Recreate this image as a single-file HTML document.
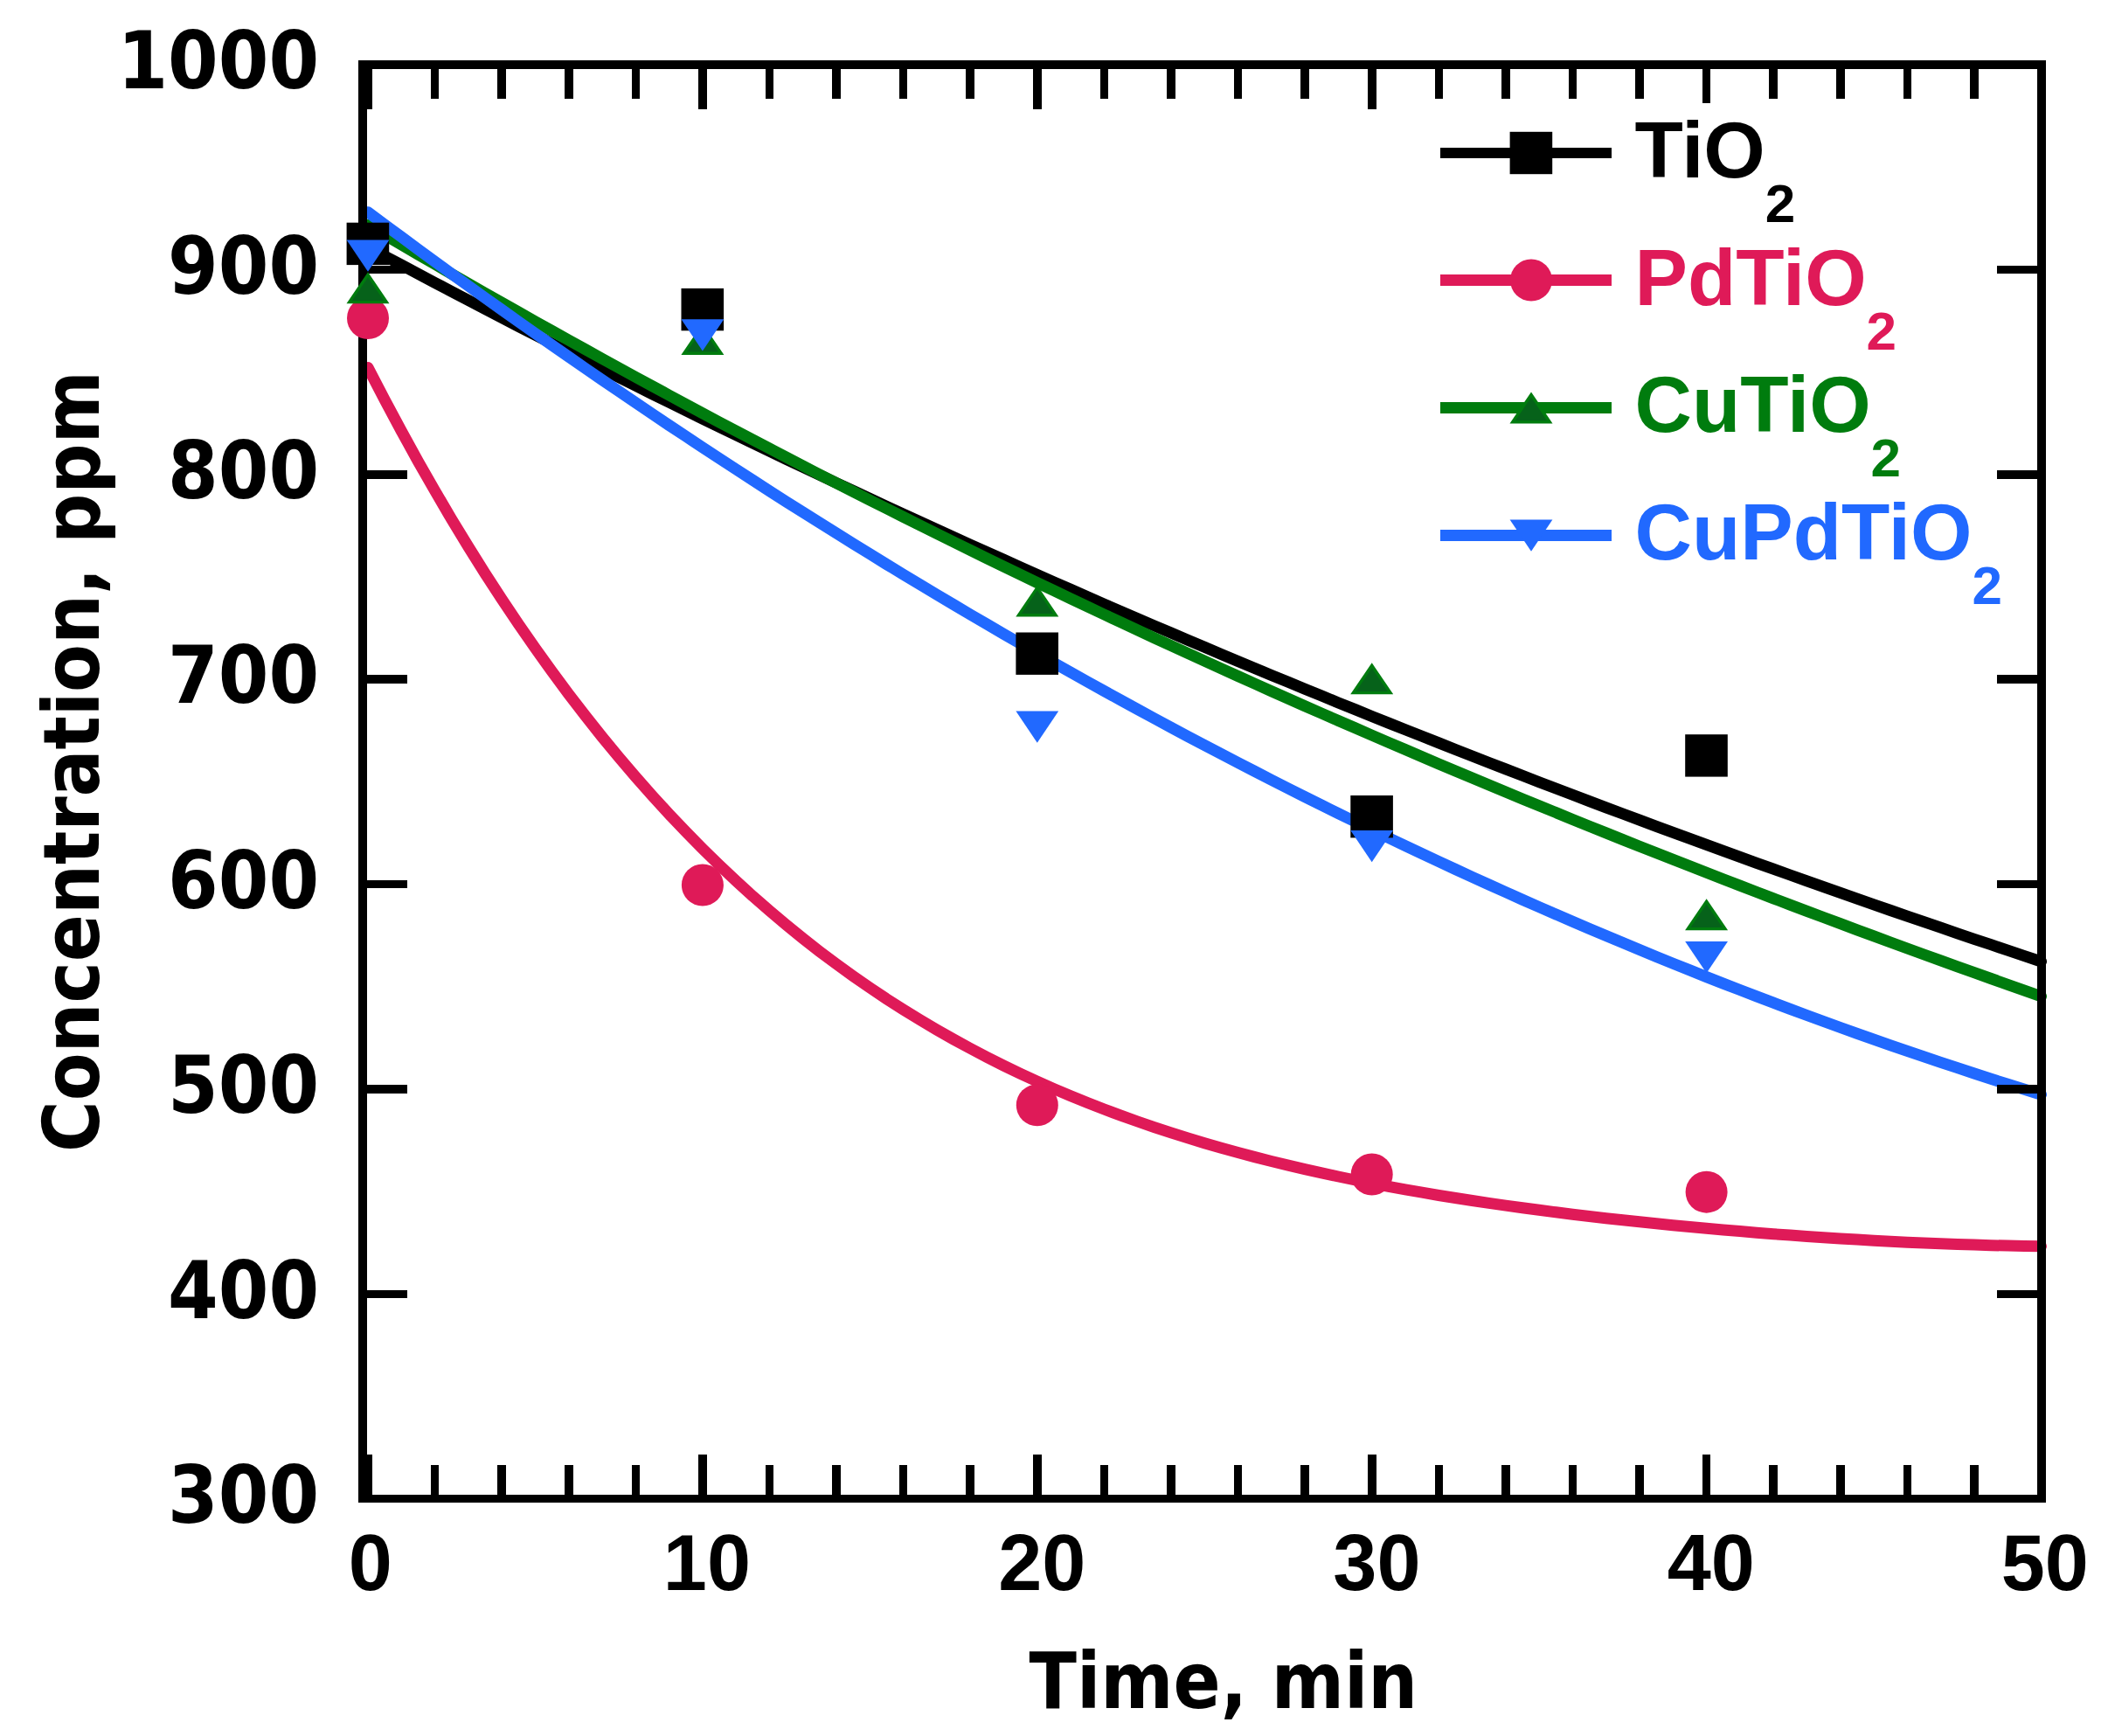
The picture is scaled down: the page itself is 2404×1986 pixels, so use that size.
<!DOCTYPE html>
<html lang="en"><head><meta charset="utf-8"><title>Concentration vs Time</title>
<style>html,body{margin:0;padding:0;background:#fff}body{width:2404px;height:1986px;overflow:hidden}svg{display:block}</style>
</head><body>
<svg width="2404" height="1986" viewBox="0 0 2404 1986">
<rect width="2404" height="1986" fill="#fff"/>
<g fill="none" stroke-linecap="round" stroke-linejoin="round" stroke-width="13">
<polyline stroke="#000000" points="421.0,282.6 440.1,292.9 459.3,303.1 478.4,313.3 497.6,323.4 516.7,333.5 535.9,343.5 555.0,353.5 574.2,363.5 593.3,373.4 612.5,383.2 631.6,393.0 650.7,402.7 669.9,412.4 689.0,422.1 708.2,431.7 727.3,441.3 746.5,450.8 765.6,460.2 784.8,469.7 803.9,479.1 823.0,488.4 842.2,497.7 861.3,506.9 880.5,516.1 899.6,525.3 918.8,534.4 937.9,543.4 957.1,552.5 976.2,561.4 995.4,570.4 1014.5,579.3 1033.6,588.1 1052.8,596.9 1071.9,605.7 1091.1,614.4 1110.2,623.1 1129.4,631.7 1148.5,640.3 1167.7,648.9 1186.8,657.4 1205.9,665.9 1225.1,674.3 1244.2,682.7 1263.4,691.1 1282.5,699.4 1301.7,707.7 1320.8,715.9 1340.0,724.1 1359.1,732.2 1378.2,740.3 1397.4,748.4 1416.5,756.5 1435.7,764.5 1454.8,772.4 1474.0,780.3 1493.1,788.2 1512.3,796.1 1531.4,803.9 1550.6,811.6 1569.7,819.4 1588.8,827.1 1608.0,834.7 1627.1,842.3 1646.3,849.9 1665.4,857.5 1684.6,865.0 1703.7,872.5 1722.9,879.9 1742.0,887.3 1761.1,894.7 1780.3,902.0 1799.4,909.3 1818.6,916.6 1837.7,923.8 1856.9,931.0 1876.0,938.1 1895.2,945.3 1914.3,952.4 1933.5,959.4 1952.6,966.4 1971.7,973.4 1990.9,980.4 2010.0,987.3 2029.2,994.2 2048.3,1001.0 2067.5,1007.8 2086.6,1014.6 2105.8,1021.4 2124.9,1028.1 2144.1,1034.8 2163.2,1041.5 2182.3,1048.1 2201.5,1054.7 2220.6,1061.2 2239.8,1067.8 2258.9,1074.3 2278.1,1080.7 2297.2,1087.2 2316.4,1093.6 2335.5,1100.0"/>
<polyline stroke="#DF1A58" points="421.0,420.4 440.1,457.3 459.3,493.1 478.4,527.8 497.6,561.4 516.7,594.0 535.9,625.5 555.0,656.0 574.2,685.5 593.3,714.0 612.5,741.6 631.6,768.3 650.7,794.1 669.9,819.0 689.0,843.1 708.2,866.4 727.3,888.8 746.5,910.5 765.6,931.4 784.8,951.5 803.9,971.0 823.0,989.7 842.2,1007.8 861.3,1025.2 880.5,1041.9 899.6,1058.0 918.8,1073.6 937.9,1088.5 957.1,1102.9 976.2,1116.7 995.4,1130.0 1014.5,1142.8 1033.6,1155.0 1052.8,1166.8 1071.9,1178.1 1091.1,1189.0 1110.2,1199.4 1129.4,1209.5 1148.5,1219.1 1167.7,1228.3 1186.8,1237.1 1205.9,1245.6 1225.1,1253.7 1244.2,1261.5 1263.4,1269.0 1282.5,1276.1 1301.7,1283.0 1320.8,1289.6 1340.0,1295.9 1359.1,1301.9 1378.2,1307.7 1397.4,1313.2 1416.5,1318.5 1435.7,1323.6 1454.8,1328.5 1474.0,1333.1 1493.1,1337.6 1512.3,1341.9 1531.4,1346.0 1550.6,1350.0 1569.7,1353.7 1588.8,1357.4 1608.0,1360.9 1627.1,1364.2 1646.3,1367.5 1665.4,1370.5 1684.6,1373.5 1703.7,1376.4 1722.9,1379.1 1742.0,1381.8 1761.1,1384.3 1780.3,1386.8 1799.4,1389.2 1818.6,1391.5 1837.7,1393.7 1856.9,1395.8 1876.0,1397.8 1895.2,1399.8 1914.3,1401.7 1933.5,1403.5 1952.6,1405.3 1971.7,1407.0 1990.9,1408.6 2010.0,1410.2 2029.2,1411.7 2048.3,1413.1 2067.5,1414.4 2086.6,1415.7 2105.8,1417.0 2124.9,1418.1 2144.1,1419.2 2163.2,1420.2 2182.3,1421.2 2201.5,1422.0 2220.6,1422.8 2239.8,1423.5 2258.9,1424.1 2278.1,1424.7 2297.2,1425.1 2316.4,1425.4 2335.5,1425.7"/>
<polyline stroke="#007C0E" points="421.0,257.3 440.1,268.6 459.3,279.9 478.4,291.1 497.6,302.2 516.7,313.3 535.9,324.3 555.0,335.3 574.2,346.2 593.3,357.0 612.5,367.8 631.6,378.5 650.7,389.2 669.9,399.8 689.0,410.4 708.2,420.9 727.3,431.4 746.5,441.8 765.6,452.1 784.8,462.4 803.9,472.7 823.0,482.9 842.2,493.0 861.3,503.1 880.5,513.1 899.6,523.1 918.8,533.0 937.9,542.9 957.1,552.7 976.2,562.4 995.4,572.2 1014.5,581.8 1033.6,591.4 1052.8,601.0 1071.9,610.5 1091.1,620.0 1110.2,629.4 1129.4,638.8 1148.5,648.1 1167.7,657.4 1186.8,666.6 1205.9,675.7 1225.1,684.9 1244.2,693.9 1263.4,703.0 1282.5,711.9 1301.7,720.9 1320.8,729.8 1340.0,738.6 1359.1,747.4 1378.2,756.1 1397.4,764.9 1416.5,773.5 1435.7,782.1 1454.8,790.7 1474.0,799.2 1493.1,807.7 1512.3,816.1 1531.4,824.5 1550.6,832.8 1569.7,841.1 1588.8,849.4 1608.0,857.6 1627.1,865.8 1646.3,873.9 1665.4,882.0 1684.6,890.0 1703.7,898.0 1722.9,906.0 1742.0,913.9 1761.1,921.8 1780.3,929.6 1799.4,937.4 1818.6,945.2 1837.7,952.9 1856.9,960.6 1876.0,968.2 1895.2,975.8 1914.3,983.3 1933.5,990.8 1952.6,998.3 1971.7,1005.8 1990.9,1013.1 2010.0,1020.5 2029.2,1027.8 2048.3,1035.1 2067.5,1042.3 2086.6,1049.5 2105.8,1056.7 2124.9,1063.8 2144.1,1070.9 2163.2,1078.0 2182.3,1085.0 2201.5,1092.0 2220.6,1098.9 2239.8,1105.8 2258.9,1112.7 2278.1,1119.5 2297.2,1126.3 2316.4,1133.1 2335.5,1139.8"/>
<polyline stroke="#2169FF" points="421.0,242.7 440.1,257.0 459.3,271.1 478.4,285.2 497.6,299.2 516.7,313.2 535.9,327.0 555.0,340.7 574.2,354.4 593.3,368.0 612.5,381.5 631.6,394.9 650.7,408.2 669.9,421.5 689.0,434.7 708.2,447.7 727.3,460.7 746.5,473.6 765.6,486.5 784.8,499.2 803.9,511.9 823.0,524.4 842.2,536.9 861.3,549.3 880.5,561.7 899.6,573.9 918.8,586.1 937.9,598.1 957.1,610.1 976.2,622.0 995.4,633.8 1014.5,645.6 1033.6,657.2 1052.8,668.8 1071.9,680.3 1091.1,691.7 1110.2,703.0 1129.4,714.2 1148.5,725.3 1167.7,736.4 1186.8,747.4 1205.9,758.3 1225.1,769.1 1244.2,779.8 1263.4,790.5 1282.5,801.0 1301.7,811.5 1320.8,821.9 1340.0,832.2 1359.1,842.4 1378.2,852.5 1397.4,862.6 1416.5,872.6 1435.7,882.4 1454.8,892.2 1474.0,902.0 1493.1,911.6 1512.3,921.1 1531.4,930.6 1550.6,940.0 1569.7,949.3 1588.8,958.5 1608.0,967.6 1627.1,976.7 1646.3,985.6 1665.4,994.5 1684.6,1003.3 1703.7,1012.0 1722.9,1020.6 1742.0,1029.2 1761.1,1037.6 1780.3,1046.0 1799.4,1054.3 1818.6,1062.5 1837.7,1070.6 1856.9,1078.6 1876.0,1086.6 1895.2,1094.5 1914.3,1102.2 1933.5,1109.9 1952.6,1117.6 1971.7,1125.1 1990.9,1132.5 2010.0,1139.9 2029.2,1147.2 2048.3,1154.4 2067.5,1161.5 2086.6,1168.5 2105.8,1175.5 2124.9,1182.3 2144.1,1189.1 2163.2,1195.8 2182.3,1202.4 2201.5,1208.9 2220.6,1215.3 2239.8,1221.7 2258.9,1228.0 2278.1,1234.2 2297.2,1240.3 2316.4,1246.3 2335.5,1252.2"/>
</g>
<g stroke="#000" stroke-width="9.6" fill="none" shape-rendering="crispEdges">
<rect x="415.0" y="74.0" width="1921.0" height="1640.5"/>
<path d="M421.0 74.0v51M421.0 1714.5v-51M497.6 74.0v38.7M497.6 1714.5v-38.7M574.2 74.0v38.7M574.2 1714.5v-38.7M650.7 74.0v38.7M650.7 1714.5v-38.7M727.3 74.0v38.7M727.3 1714.5v-38.7M803.9 74.0v51M803.9 1714.5v-51M880.5 74.0v38.7M880.5 1714.5v-38.7M957.1 74.0v38.7M957.1 1714.5v-38.7M1033.6 74.0v38.7M1033.6 1714.5v-38.7M1110.2 74.0v38.7M1110.2 1714.5v-38.7M1186.8 74.0v51M1186.8 1714.5v-51M1263.4 74.0v38.7M1263.4 1714.5v-38.7M1340.0 74.0v38.7M1340.0 1714.5v-38.7M1416.5 74.0v38.7M1416.5 1714.5v-38.7M1493.1 74.0v38.7M1493.1 1714.5v-38.7M1569.7 74.0v51M1569.7 1714.5v-51M1646.3 74.0v38.7M1646.3 1714.5v-38.7M1722.9 74.0v38.7M1722.9 1714.5v-38.7M1799.4 74.0v38.7M1799.4 1714.5v-38.7M1876.0 74.0v38.7M1876.0 1714.5v-38.7M1952.6 74.0v51M1952.6 1714.5v-51M2029.2 74.0v38.7M2029.2 1714.5v-38.7M2105.8 74.0v38.7M2105.8 1714.5v-38.7M2182.3 74.0v38.7M2182.3 1714.5v-38.7M2258.9 74.0v38.7M2258.9 1714.5v-38.7M2335.5 74.0v51M2335.5 1714.5v-51M415.0 1480.4h51M2336.0 1480.4h-51M415.0 1246.0h51M2336.0 1246.0h-51M415.0 1011.6h51M2336.0 1011.6h-51M415.0 777.2h51M2336.0 777.2h-51M415.0 542.8h51M2336.0 542.8h-51M415.0 308.4h51M2336.0 308.4h-51"/>
</g>
<rect x="396.6" y="254.7" width="48.6" height="48.4" fill="#000000"/>
<rect x="779.5" y="329.9" width="48.6" height="48.4" fill="#000000"/>
<rect x="1162.4" y="723.5" width="48.6" height="48.4" fill="#000000"/>
<rect x="1545.3" y="910.0" width="48.6" height="48.4" fill="#000000"/>
<rect x="1928.2" y="840.2" width="48.6" height="48.4" fill="#000000"/>
<circle cx="421.0" cy="364.0" r="24" fill="#DF1A58"/>
<circle cx="803.9" cy="1012.5" r="24" fill="#DF1A58"/>
<circle cx="1186.8" cy="1264.3" r="24" fill="#DF1A58"/>
<circle cx="1569.7" cy="1343.5" r="24" fill="#DF1A58"/>
<circle cx="1952.6" cy="1363.7" r="24" fill="#DF1A58"/>
<path d="M421.0 314.3L442.3 345.6H399.7Z" fill="#06621A" stroke="#007C0E" stroke-width="3.4" stroke-linejoin="miter"/>
<path d="M803.9 372.9L825.2 404.2H782.6Z" fill="#06621A" stroke="#007C0E" stroke-width="3.4" stroke-linejoin="miter"/>
<path d="M1186.8 672.4L1208.1 703.7H1165.5Z" fill="#06621A" stroke="#007C0E" stroke-width="3.4" stroke-linejoin="miter"/>
<path d="M1569.7 761.3L1591.0 792.6H1548.4Z" fill="#06621A" stroke="#007C0E" stroke-width="3.4" stroke-linejoin="miter"/>
<path d="M1952.6 1031.3L1973.9 1062.6H1931.3Z" fill="#06621A" stroke="#007C0E" stroke-width="3.4" stroke-linejoin="miter"/>
<path d="M421.0 310.7L445.4 274.5H396.6Z" fill="#2169FF"/>
<path d="M803.9 401.4L828.3 365.2H779.5Z" fill="#2169FF"/>
<path d="M1186.8 849.8L1211.2 813.6H1162.4Z" fill="#2169FF"/>
<path d="M1569.7 986.2L1594.1 950.0H1545.3Z" fill="#2169FF"/>
<path d="M1952.6 1113.2L1977.0 1077.0H1928.2Z" fill="#2169FF"/>
<rect x="1640" y="118" width="640" height="590" fill="#fff"/>
<line x1="1648" x2="1844" y1="175" y2="175" stroke="#000000" stroke-width="12.5" shape-rendering="crispEdges"/>
<rect x="1727.6" y="150.8" width="48.6" height="48.4" fill="#000000"/>
<text x="1870.5" y="203" fill="#000000" font-family="'Liberation Sans', Arial, sans-serif" font-weight="bold" font-size="90.6">TiO<tspan dy="51" font-size="62">2</tspan></text>
<line x1="1648" x2="1844" y1="320.5" y2="320.5" stroke="#DF1A58" stroke-width="12.5" shape-rendering="crispEdges"/>
<circle cx="1752.0" cy="320.5" r="24" fill="#DF1A58"/>
<text x="1870.5" y="348.5" fill="#DF1A58" font-family="'Liberation Sans', Arial, sans-serif" font-weight="bold" font-size="90.6">PdTiO<tspan dy="51" font-size="62">2</tspan></text>
<line x1="1648" x2="1844" y1="466.5" y2="466.5" stroke="#007C0E" stroke-width="12.5" shape-rendering="crispEdges"/>
<path d="M1752.0 451.5L1773.3 482.8H1730.7Z" fill="#06621A" stroke="#007C0E" stroke-width="3.4" stroke-linejoin="miter"/>
<text x="1870.5" y="494" fill="#007C0E" font-family="'Liberation Sans', Arial, sans-serif" font-weight="bold" font-size="90.6">CuTiO<tspan dy="51" font-size="62">2</tspan></text>
<line x1="1648" x2="1844" y1="612.5" y2="612.5" stroke="#2169FF" stroke-width="12.5" shape-rendering="crispEdges"/>
<path d="M1752.0 630.7L1776.4 594.5H1727.6Z" fill="#2169FF"/>
<text x="1870.5" y="640" fill="#2169FF" font-family="'Liberation Sans', Arial, sans-serif" font-weight="bold" font-size="90.6">CuPdTiO<tspan dy="51" font-size="62">2</tspan></text>
<text x="423.8" y="1818.6" text-anchor="middle" font-family="'Liberation Sans', Arial, sans-serif" font-weight="bold" font-size="90">0</text>
<text x="808.9" y="1818.6" text-anchor="middle" font-family="'Liberation Sans', Arial, sans-serif" font-weight="bold" font-size="90">10</text>
<text x="1192.3" y="1818.6" text-anchor="middle" font-family="'Liberation Sans', Arial, sans-serif" font-weight="bold" font-size="90">20</text>
<text x="1575.4" y="1818.6" text-anchor="middle" font-family="'Liberation Sans', Arial, sans-serif" font-weight="bold" font-size="90">30</text>
<text x="1957.8" y="1818.6" text-anchor="middle" font-family="'Liberation Sans', Arial, sans-serif" font-weight="bold" font-size="90">40</text>
<text x="2339.8" y="1818.6" text-anchor="middle" font-family="'Liberation Sans', Arial, sans-serif" font-weight="bold" font-size="90">50</text>
<text x="365.2" y="1741.9" text-anchor="end" font-family="'DejaVu Sans Condensed', 'DejaVu Sans', Verdana, sans-serif" font-weight="bold" font-size="91" textLength="173.10000000000002" lengthAdjust="spacingAndGlyphs">300</text>
<text x="365.2" y="1507.5" text-anchor="end" font-family="'DejaVu Sans Condensed', 'DejaVu Sans', Verdana, sans-serif" font-weight="bold" font-size="91" textLength="173.10000000000002" lengthAdjust="spacingAndGlyphs">400</text>
<text x="365.2" y="1273.1" text-anchor="end" font-family="'DejaVu Sans Condensed', 'DejaVu Sans', Verdana, sans-serif" font-weight="bold" font-size="91" textLength="173.10000000000002" lengthAdjust="spacingAndGlyphs">500</text>
<text x="365.2" y="1038.7" text-anchor="end" font-family="'DejaVu Sans Condensed', 'DejaVu Sans', Verdana, sans-serif" font-weight="bold" font-size="91" textLength="173.10000000000002" lengthAdjust="spacingAndGlyphs">600</text>
<text x="365.2" y="804.3" text-anchor="end" font-family="'DejaVu Sans Condensed', 'DejaVu Sans', Verdana, sans-serif" font-weight="bold" font-size="91" textLength="173.10000000000002" lengthAdjust="spacingAndGlyphs">700</text>
<text x="365.2" y="569.9" text-anchor="end" font-family="'DejaVu Sans Condensed', 'DejaVu Sans', Verdana, sans-serif" font-weight="bold" font-size="91" textLength="173.10000000000002" lengthAdjust="spacingAndGlyphs">800</text>
<text x="365.2" y="335.5" text-anchor="end" font-family="'DejaVu Sans Condensed', 'DejaVu Sans', Verdana, sans-serif" font-weight="bold" font-size="91" textLength="173.10000000000002" lengthAdjust="spacingAndGlyphs">900</text>
<text x="365.2" y="101.1" text-anchor="end" font-family="'DejaVu Sans Condensed', 'DejaVu Sans', Verdana, sans-serif" font-weight="bold" font-size="91" textLength="230.8" lengthAdjust="spacingAndGlyphs">1000</text>
<text x="1177.5" y="1953.7" font-family="'DejaVu Sans Condensed', 'DejaVu Sans', Verdana, sans-serif" font-weight="bold" font-size="89.6" textLength="444.6" lengthAdjust="spacingAndGlyphs">Time, min</text>
<text transform="translate(113,1318) rotate(-90)" font-family="'DejaVu Sans Condensed', 'DejaVu Sans', Verdana, sans-serif" font-weight="bold" font-size="89.6" textLength="893.8" lengthAdjust="spacingAndGlyphs">Concentration, ppm</text>
</svg>
</body></html>
